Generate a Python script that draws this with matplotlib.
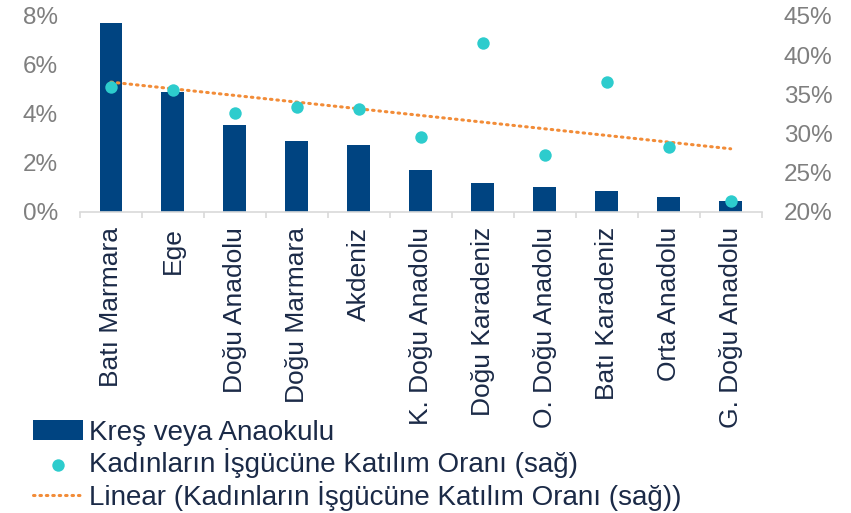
import numpy as np
import matplotlib
matplotlib.use('Agg')
import matplotlib.pyplot as plt
from matplotlib.ticker import FuncFormatter, FixedLocator

plt.rcParams['font.family'] = ['Liberation Sans', 'DejaVu Sans']

regions = ['Batı Marmara', 'Ege', 'Doğu Anadolu', 'Doğu Marmara', 'Akdeniz',
           'K. Doğu Anadolu', 'Doğu Karadeniz', 'O. Doğu Anadolu', 'Batı Karadeniz',
           'Orta Anadolu', 'G. Doğu Anadolu']
kres = [7.71, 4.90, 3.53, 2.90, 2.75, 1.70, 1.18, 1.02, 0.87, 0.60, 0.45]
katilim = [35.9, 35.55, 32.63, 33.43, 33.14, 29.53, 41.6, 27.29, 36.57, 28.22, 21.45]

navy = '#004481'
teal = '#2dcccd'
orange = '#f28c38'
grey = '#7f7f7f'
textcol = '#1b2a47'

fig = plt.figure(figsize=(8.51, 5.13), dpi=100)
ax = fig.add_axes([0.094, 0.587, 0.801, 0.382])
ax2 = ax.twinx()

x = np.arange(len(regions))
b = ax.bar(x, kres, width=0.37, color=navy, zorder=2, label='Kreş veya Anaokulu')

sc = ax2.scatter(x, katilim, s=80, color=teal, zorder=3, linewidths=0,
                 label='Kadınların İşgücüne Katılım Oranı (sağ)')
coef = np.polyfit(x, katilim, 1)
ln, = ax2.plot(x, np.polyval(coef, x), color=orange, lw=2.2, ls=(0, (0.5, 1.6)),
               dash_capstyle='round', zorder=2,
               label='Linear (Kadınların İşgücüne Katılım Oranı (sağ))')

ax.set_xlim(-0.5, len(regions) - 0.5)
ax.set_ylim(0, 8)
ax.set_yticks([0, 2, 4, 6, 8])
ax.yaxis.set_major_formatter(FuncFormatter(lambda v, p: f'{v:.0f}%'))
ax2.set_ylim(20, 45)
ax2.set_yticks([20, 25, 30, 35, 40, 45])
ax2.yaxis.set_major_formatter(FuncFormatter(lambda v, p: f'{v:.0f}%'))

for a in (ax, ax2):
    for s in ['top', 'left', 'right']:
        a.spines[s].set_visible(False)
    a.tick_params(axis='y', length=0, labelsize=17.5, labelcolor=grey, pad=16)
ax2.spines['bottom'].set_visible(False)
ax.spines['bottom'].set_color('#d9d9d9')
ax.spines['bottom'].set_linewidth(1.2)

ax.set_xticks(x)
ax.set_xticklabels(regions, rotation=90, fontsize=19, color=textcol)
ax.tick_params(axis='x', length=0, pad=11)
ax.xaxis.set_minor_locator(FixedLocator(np.arange(-0.5, len(regions), 1)))
ax.tick_params(axis='x', which='minor', length=4, color='#d9d9d9', width=1.2)

ax.set_zorder(ax2.get_zorder() - 1)
ax.patch.set_visible(False)

leg = fig.legend(handles=[b, sc, ln], loc='upper left', bbox_to_anchor=(0.039, 0.182),
                 frameon=False, fontsize=20, handlelength=1.8, handletextpad=0.2,
                 labelspacing=0.09, borderaxespad=0, borderpad=0)
for t in leg.get_texts():
    t.set_color(textcol)

fig.savefig('out.png', dpi=100)
